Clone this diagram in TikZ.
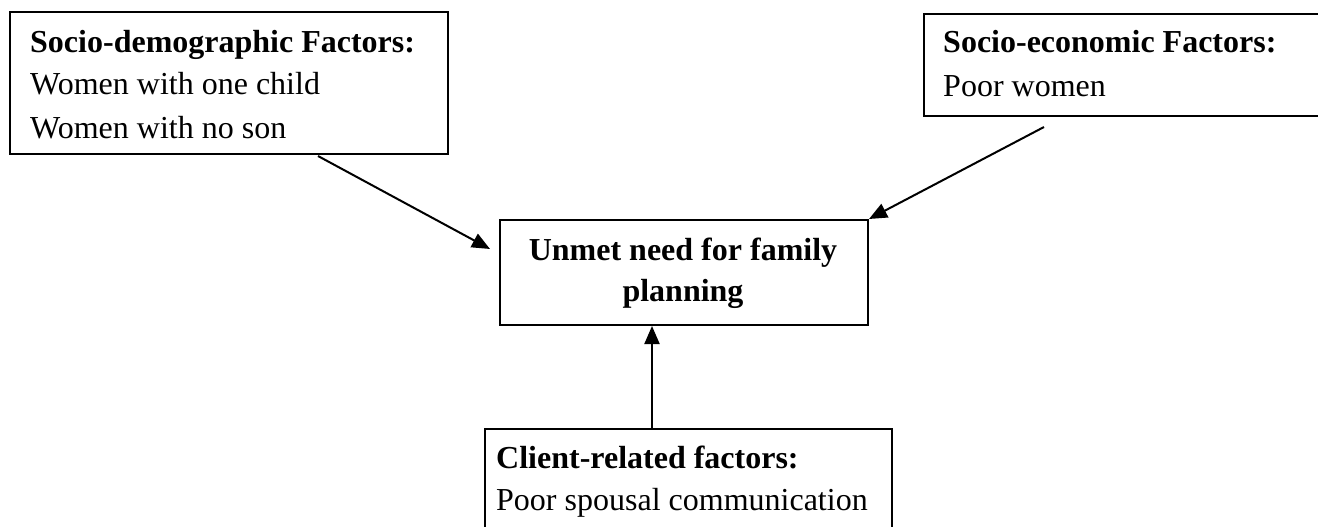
\documentclass[tikz,border=0pt]{standalone}
\usepackage{fontspec}
\setmainfont{Liberation Serif}
\usetikzlibrary{arrows.meta}
\begin{document}
\begin{tikzpicture}[x=1pt,y=-1pt,
  boxframe/.style={draw=black,line width=2pt,rectangle,inner sep=0pt,anchor=north west},
  txt/.style={inner sep=0pt,anchor=base west,font=\fontsize{32}{42}\selectfont},
  btxt/.style={txt,font=\fontsize{32}{42}\selectfont\bfseries},
  ctxt/.style={btxt,anchor=base},
  conn/.style={line width=2pt,-{Triangle[length=18pt,width=15pt]}}]
\useasboundingbox (0,0) rectangle (1318,527);
\fill[white] (0,0) rectangle (1318,527);
\clip (0,0) rectangle (1318,527);
% boxes
\node[boxframe,minimum width=438pt,minimum height=142pt] (b1) at (9,11) {};
\node[boxframe,minimum width=410pt,minimum height=102pt] (b2) at (923,13) {};
\node[boxframe,minimum width=368pt,minimum height=105pt] (c) at (499,219) {};
\node[boxframe,minimum width=407pt,minimum height=120pt] (b3) at (484,428) {};
% texts
\node[btxt] (t11) at (30,53) {Socio-demographic Factors:};
\node[txt] (t12) at (30,95) {Women with one child};
\node[txt] (t13) at (30,138) {Women with no son};
\node[btxt] (t21) at (943,53) {Socio-economic Factors:};
\node[txt] (t22) at (943,96) {Poor women};
\node[ctxt] (tc1) at (683,260) {Unmet need for family};
\node[ctxt] (tc2) at (683,301) {planning};
\node[btxt] (t31) at (496,468) {Client-related factors:};
\node[txt] (t32) at (496,510) {Poor spousal communication};
% connector ends
\coordinate (a1s) at ([xshift=89pt,yshift=-1pt]b1.south);
\coordinate (a1e) at ([xshift=-9pt,yshift=23.5pt]c.west);
\coordinate (a2s) at ([xshift=-85pt,yshift=-10pt]b2.south);
\coordinate (a3s) at ([xshift=-36.5pt]b3.north);
\coordinate (a3e) at (a3s |- c.south);
% connectors
\draw[conn] (a1s) -- (a1e);
\draw[conn] (a2s) -- (c.north east);
\draw[conn] (a3s) -- (a3e);
\end{tikzpicture}
\end{document}
